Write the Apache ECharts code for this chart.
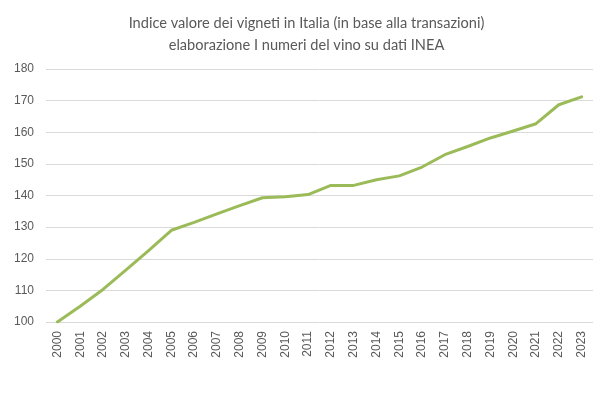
<!DOCTYPE html>
<html><head><meta charset="utf-8">
<script src="https://cdn.jsdelivr.net/npm/echarts@6/dist/echarts.min.js"></script>
<style>html,body{margin:0;padding:0;background:#fff}#c{width:613px;height:393px}</style>
</head><body><div id="c"></div>
<script>
const titleLines = ["Indice valore dei vigneti in Italia (in base alla transazioni)", "elaborazione I numeri del vino su dati INEA"];
const years = ["2000","2001","2002","2003","2004","2005","2006","2007","2008","2009","2010","2011","2012","2013","2014","2015","2016","2017","2018","2019","2020","2021","2022","2023"];
const values = [100,105,110.3,116.4,122.6,129,131.5,134.2,136.8,139.3,139.6,140.3,143.2,143.2,145,146.2,149,152.9,155.5,158.2,160.4,162.7,168.7,171.2];
const yMin = 100, yMax = 180, yStep = 10;

const chart = echarts.init(document.getElementById('c'), null, {renderer:'canvas'});
chart.setOption({
  animation:false,
  title:{text:titleLines.join('\n'), left:'center', top:7,
    textStyle:{fontFamily:'Lato', fontSize:14.6, fontWeight:'normal', color:'#595959', lineHeight:22}},
  grid:{left:46, right:20, top:69, bottom:71},
  xAxis:{type:'category', data:years, boundaryGap:true,
    axisLine:{show:false}, axisTick:{show:false},
    axisLabel:{rotate:90, color:'#595959', fontFamily:'Liberation Sans', fontSize:12, margin:9}},
  yAxis:{type:'value', min:yMin, max:yMax, interval:yStep,
    axisLine:{show:false}, axisTick:{show:false},
    axisLabel:{color:'#595959', fontFamily:'Liberation Sans', fontSize:12, margin:12},
    splitLine:{lineStyle:{color:'#d9d9d9', width:1}}},
  series:[{type:'line', data:values, symbol:'none', lineStyle:{color:'#9bbb59', width:3, cap:'round', join:'round'}}]
});
</script></body></html>
